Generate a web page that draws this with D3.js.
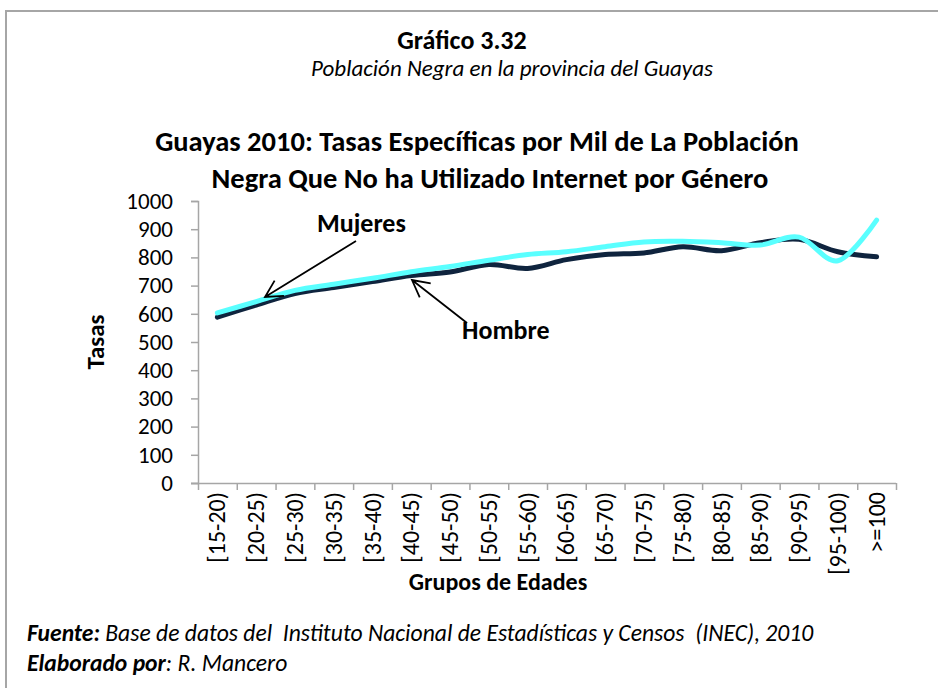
<!DOCTYPE html>
<html>
<head>
<meta charset="utf-8">
<script src="https://cdn.jsdelivr.net/npm/d3@7"></script>
<style>
  html, body { margin: 0; padding: 0; background: #fff; }
  svg { display: block; }
  text { font-family: Carlito, Lato, "Open Sans", sans-serif; fill: #000; }
</style>
</head>
<body>
<svg id="chart" width="938" height="688"></svg>
<script>
// Age groups (x categories)
const categories = ["[15-20)", "[20-25)", "[25-30)", "[30-35)", "[35-40)", "[40-45)",
  "[45-50)", "[50-55)", "[55-60)", "[60-65)", "[65-70)", "[70-75)", "[75-80)",
  "[80-85)", "[85-90)", "[90-95)", "[95-100)", ">=100"];

// Rates per thousand, by sex
const hombre  = [588, 631, 672, 693, 714, 736, 748, 775, 761, 792, 810, 816, 838, 824, 852, 864, 820, 802];
const mujeres = [603, 643, 683, 705, 726, 749, 768, 790, 810, 820, 838, 855, 857, 852, 844, 872, 788, 932];

// Y axis ticks
const yTicks = [0, 100, 200, 300, 400, 500, 600, 700, 800, 900, 1000];

const svg = d3.select("#chart");
const axisColor = "#a6a6a6";

// Frame (top and left edges)
svg.append("path")
  .attr("d", "M6,700 L6,11 L950,11")
  .attr("fill", "none")
  .attr("stroke", axisColor)
  .attr("stroke-width", 2);

// Headings
svg.append("text").attr("x", 462).attr("y", 49).attr("text-anchor", "middle")
  .attr("font-size", 26).attr("font-weight", "bold").text("Gráfico 3.32");
svg.append("text").attr("x", 512).attr("y", 76).attr("text-anchor", "middle")
  .attr("font-size", 23).attr("font-style", "italic")
  .text("Población Negra en la provincia del Guayas");

// Chart group, clipped at the bottom of the chart block
svg.append("clipPath").attr("id", "chartClip")
  .append("rect").attr("x", 0).attr("y", 0).attr("width", 938).attr("height", 593);
const g = svg.append("g").attr("clip-path", "url(#chartClip)");

g.append("text").attr("x", 477).attr("y", 151).attr("text-anchor", "middle")
  .attr("font-size", 28.5).attr("font-weight", "bold")
  .text("Guayas 2010: Tasas Específicas por Mil de La Población");
g.append("text").attr("x", 490).attr("y", 188).attr("text-anchor", "middle")
  .attr("font-size", 28.5).attr("font-weight", "bold")
  .text("Negra Que No ha Utilizado Internet por Género");

// Scales
const x = d3.scaleBand().domain(categories).range([198, 896]).padding(0);
const xEdge = d3.scaleLinear().domain([0, categories.length]).range([198, 896]);
const y = d3.scaleLinear().domain([0, 1000]).range([483, 201]);

// Y axis
const yAxis = g.append("g").attr("transform", "translate(198,0)")
  .call(d3.axisLeft(y).tickValues(yTicks).tickSize(7).tickPadding(18).tickFormat(d3.format("d")));
yAxis.select(".domain").attr("stroke", axisColor).attr("stroke-width", 1.5);
yAxis.selectAll(".tick line").attr("stroke", axisColor).attr("stroke-width", 1.5);
yAxis.selectAll(".tick text").attr("font-size", 23).attr("fill", "#000")
  .attr("font-family", "Carlito, Lato, sans-serif");

// X axis: tick marks at category boundaries
const xAxis = g.append("g").attr("transform", "translate(0,483)")
  .call(d3.axisBottom(xEdge).tickValues(d3.range(categories.length + 1)).tickSize(7).tickFormat(""));
xAxis.select(".domain").attr("stroke", axisColor).attr("stroke-width", 1.5)
  .attr("d", "M191,0.5H896");
xAxis.selectAll(".tick line").attr("stroke", axisColor).attr("stroke-width", 1.5);

// X labels, rotated
g.append("g").selectAll("text").data(categories).join("text")
  .attr("transform", d => `translate(${x(d) + x.bandwidth() / 2 + 8},492) rotate(-90)`)
  .attr("text-anchor", "end")
  .attr("font-size", 24)
  .text(d => d);

// Axis titles
g.append("text").attr("transform", "translate(104,342) rotate(-90)")
  .attr("text-anchor", "middle").attr("font-size", 25).attr("font-weight", "bold").text("Tasas");
g.append("text").attr("x", 498).attr("y", 590).attr("text-anchor", "middle")
  .attr("font-size", 24).attr("font-weight", "bold").text("Grupos de Edades");

// Smoothed series lines
const line = d3.line()
  .x((d, i) => x(categories[i]) + x.bandwidth() / 2)
  .y(d => y(d))
  .curve(d3.curveCardinal.tension(0));

g.append("path").datum(hombre).attr("d", line)
  .attr("fill", "none").attr("stroke", "#0f243e").attr("stroke-width", 5)
  .attr("stroke-linecap", "round").attr("stroke-linejoin", "round");
g.append("path").datum(mujeres).attr("d", line)
  .attr("fill", "none").attr("stroke", "#5affff").attr("stroke-width", 5)
  .attr("stroke-linecap", "round").attr("stroke-linejoin", "round");

// Series callouts with open arrowheads
function arrow(x1, y1, x2, y2) {
  const a = Math.atan2(y1 - y2, x1 - x2);
  const len = 19, spread = 28 * Math.PI / 180;
  const w1 = [x2 + len * Math.cos(a - spread), y2 + len * Math.sin(a - spread)];
  const w2 = [x2 + len * Math.cos(a + spread), y2 + len * Math.sin(a + spread)];
  g.append("path")
    .attr("d", `M${x1},${y1}L${x2},${y2}M${w1[0]},${w1[1]}L${x2},${y2}L${w2[0]},${w2[1]}`)
    .attr("fill", "none").attr("stroke", "#000").attr("stroke-width", 1.8);
}
arrow(356, 241, 265, 297);
arrow(467, 323, 412, 280);

g.append("text").attr("x", 317).attr("y", 232).attr("font-size", 26)
  .attr("font-weight", "bold").text("Mujeres");
g.append("text").attr("x", 462).attr("y", 339).attr("font-size", 26)
  .attr("font-weight", "bold").text("Hombre");

// Source notes
const f1 = svg.append("text").attr("x", 27).attr("y", 641).attr("font-size", 23.6).attr("font-style", "italic")
  .style("white-space", "pre");
f1.append("tspan").attr("font-weight", "bold").text("Fuente:");
f1.append("tspan").text(" Base de datos del  Instituto Nacional de Estadísticas y Censos  (INEC), 2010");
const f2 = svg.append("text").attr("x", 27).attr("y", 671).attr("font-size", 23.6).attr("font-style", "italic");
f2.append("tspan").attr("font-weight", "bold").text("Elaborado por");
f2.append("tspan").text(": R. Mancero");
</script>
</body>
</html>
